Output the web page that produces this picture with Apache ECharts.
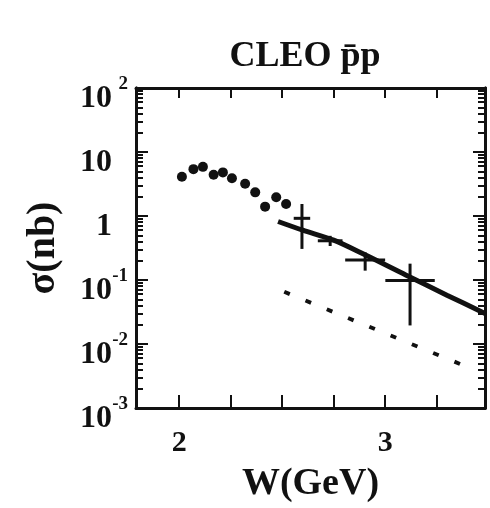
<!DOCTYPE html>
<html>
<head>
<meta charset="utf-8">
<script src="https://cdn.jsdelivr.net/npm/echarts@6/dist/echarts.min.js"></script>
<style>
  html, body { margin: 0; padding: 0; background: #fff; }
  #main { width: 490px; height: 508px; }
</style>
</head>
<body>
<div id="main"></div>
<script>
// CLEO data points (W in GeV, sigma in nb)
var dotW     = [2.013, 2.069, 2.115, 2.167, 2.212, 2.256, 2.32, 2.369, 2.417, 2.471, 2.519];
var dotSigma = [4.1,   5.4,   5.86,  4.4,   4.8,   3.9,   3.2,  2.34,  1.4,   1.96,  1.54];

// points with error crosses
var crossW      = [2.596, 2.733, 2.903, 3.121];
var crossSigma  = [0.92,  0.41,  0.206, 0.098];
var crossWErr   = [0.04,  0.06,  0.097, 0.12];
var crossSigLo  = [0.306, 0.34,  0.14,  0.0195];
var crossSigHi  = [1.54,  0.49,  0.27,  0.18];

// solid curve
var fitW     = [2.48, 2.6,  2.75, 2.9,  3.1,  3.3,   3.485];
var fitSigma = [0.82, 0.6,  0.42, 0.25, 0.12, 0.058, 0.03];

// dotted curve
var dotLineW     = [2.51,   3.393];
var dotLineSigma = [0.0655, 0.00445];

// ticks
var xTicks = [2, 2.25, 2.5, 2.75, 3, 3.25];
var xLabels = [2, 3];
var yDecades = [0.001, 0.01, 0.1, 1, 10, 100];
var yLabelBase = ['10', '10', '10', '1', '10', '10'];
var yLabelExp  = ['-3', '-2', '-1', '', '', '2'];

var yMinor = [];
for (var d = 0; d < yDecades.length - 1; d++) {
    for (var m = 2; m <= 9; m++) {
        yMinor.push(yDecades[d] * m);
    }
}

var ink = '#111';
var serif = '"Liberation Serif", "DejaVu Serif", serif';

function pairs(a, b) {
    var out = [];
    for (var i = 0; i < a.length; i++) out.push([a[i], b[i]]);
    return out;
}

var crossData = [];
for (var i = 0; i < crossW.length; i++) {
    crossData.push([crossW[i], crossSigma[i], crossWErr[i], crossSigLo[i], crossSigHi[i]]);
}

function decadeIndex(v) {
    return Math.round(Math.log10(v)) + 3;
}

// label: 'base' for the mantissa, 'exp' for the superscript, null for none
// an empty second line pushes the text below / above the tick
function yAxisDef(pos, ticks, len, label) {
    var axisLabel = { show: false };
    if (label === 'base') {
        axisLabel = {
            show: true, margin: 24, customValues: yDecades,
            lineHeight: 22,
            fontSize: 32, fontWeight: 'bold', fontFamily: serif, color: ink,
            formatter: function (v) { return '\u00a0\n' + yLabelBase[decadeIndex(v)]; }
        };
    } else if (label === 'exp') {
        axisLabel = {
            show: true, margin: 8, customValues: yDecades,
            lineHeight: 7,
            fontSize: 19, fontWeight: 'bold', fontFamily: serif, color: ink,
            formatter: function (v) {
                var e = yLabelExp[decadeIndex(v)];
                return e ? e + '\n\u00a0' : '';
            }
        };
    }
    return {
        type: 'log',
        logBase: 10,
        min: 0.001,
        max: 100,
        position: pos,
        axisLine: { show: true, lineStyle: { color: ink, width: 3 } },
        axisTick: {
            show: true, inside: true, length: len, customValues: ticks,
            lineStyle: { color: ink, width: 2 }
        },
        minorTick: { show: false },
        splitLine: { show: false },
        axisLabel: axisLabel
    };
}

var yMain = yAxisDef('left', yDecades, 12, 'base');
yMain.name = '\u03c3(nb)';
yMain.nameLocation = 'middle';
yMain.nameGap = 72;
yMain.nameTextStyle = { fontSize: 40, fontWeight: 'bold', fontFamily: serif, color: ink };

var myChart = echarts.init(document.getElementById('main'));
myChart.setOption({
    backgroundColor: '#fff',
    animation: false,
    title: {
        text: 'CLEO p\u0304p',
        left: 300,
        top: 34,
        textAlign: 'center',
        textStyle: { fontSize: 36, fontWeight: 'bold', fontFamily: serif, color: ink }
    },
    grid: { left: 136, top: 88, right: 5, bottom: 99 },
    xAxis: [{
        type: 'value',
        min: 1.79,
        max: 3.485,
        position: 'bottom',
        name: 'W(GeV)',
        nameLocation: 'middle',
        nameGap: 57,
        nameTextStyle: { fontSize: 38, fontWeight: 'bold', fontFamily: serif, color: ink },
        axisLine: { show: true, lineStyle: { color: ink, width: 3 } },
        axisTick: { show: true, inside: true, length: 13, customValues: xTicks,
                    lineStyle: { color: ink, width: 2 } },
        axisLabel: { show: true, customValues: xLabels, margin: 20,
                     fontSize: 30, fontWeight: 'bold', fontFamily: serif, color: ink },
        splitLine: { show: false }
    }, {
        type: 'value',
        min: 1.79,
        max: 3.485,
        position: 'top',
        axisLine: { show: true, lineStyle: { color: ink, width: 3 } },
        axisTick: { show: true, inside: true, length: 10, customValues: xTicks,
                    lineStyle: { color: ink, width: 2 } },
        axisLabel: { show: false },
        splitLine: { show: false }
    }],
    yAxis: [
        yMain,
        yAxisDef('left', yMinor, 7, 'exp'),
        yAxisDef('right', yDecades, 12, null),
        yAxisDef('right', yMinor, 7, null)
    ],
    series: [{
        type: 'scatter',
        data: pairs(dotW, dotSigma),
        symbol: 'circle',
        symbolSize: 10,
        itemStyle: { color: ink, opacity: 1 },
        z: 5
    }, {
        type: 'custom',
        data: crossData,
        renderItem: function (params, api) {
            var x = api.value(0), y = api.value(1), xe = api.value(2);
            var a = api.coord([x - xe, y]);
            var b = api.coord([x + xe, y]);
            var c = api.coord([x, api.value(3)]);
            var e = api.coord([x, api.value(4)]);
            var st = { stroke: ink, lineWidth: 3 };
            return {
                type: 'group',
                children: [
                    { type: 'line', shape: { x1: a[0], y1: a[1], x2: b[0], y2: b[1] }, style: st },
                    { type: 'line', shape: { x1: c[0], y1: c[1], x2: e[0], y2: e[1] }, style: st }
                ]
            };
        },
        z: 4
    }, {
        type: 'line',
        data: pairs(fitW, fitSigma),
        smooth: 0.3,
        showSymbol: false,
        symbol: 'none',
        lineStyle: { color: ink, width: 5 },
        z: 3
    }, {
        type: 'line',
        data: pairs(dotLineW, dotLineSigma),
        showSymbol: false,
        symbol: 'none',
        lineStyle: { color: ink, width: 4, type: [6, 17] },
        z: 3
    }]
});
</script>
</body>
</html>
